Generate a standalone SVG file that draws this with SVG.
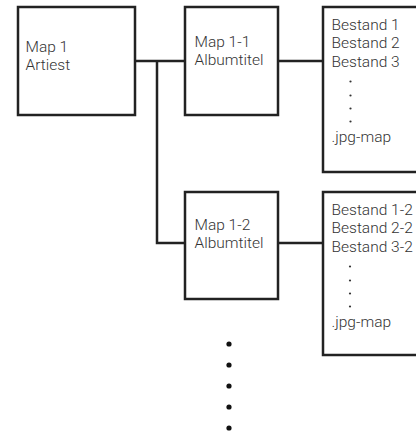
<svg xmlns="http://www.w3.org/2000/svg" width="416" height="431" viewBox="0 0 416 431">
<style>
.box{fill:#fff;stroke:#222;stroke-width:2.5}
.ln{fill:none;stroke:#222;stroke-width:2.5}
text{font-family:Roboto,"Liberation Sans",Arial,sans-serif;font-weight:300;font-size:15.5px;fill:#333}
.sd{fill:#333}
.bd{fill:#111}
</style>
<rect width="416" height="431" fill="#fff"/>
<g id="connectors">
<path class="ln" d="M135 61H185M157 61V243H185M278 61H323M278 243H323"/>
</g>
<g id="map1">
<rect class="box" x="18" y="7" width="117" height="108"/>
<text x="25.5" y="51.5">Map 1</text>
<text x="25.5" y="69.5">Artiest</text>
</g>
<g id="map1-1">
<rect class="box" x="185" y="7" width="93" height="108"/>
<text x="194.5" y="46.5">Map 1-1</text>
<text x="194.5" y="65">Albumtitel</text>
</g>
<g id="files1">
<rect class="box" x="323" y="7" width="100" height="165"/>
<text x="331.5" y="29.5">Bestand 1</text>
<text x="331.5" y="48">Bestand 2</text>
<text x="331.5" y="66.5">Bestand 3</text>
<circle class="sd" cx="350.5" cy="81.5" r="1.1"/>
<circle class="sd" cx="350.5" cy="95.5" r="1.1"/>
<circle class="sd" cx="350.5" cy="108.5" r="1.1"/>
<circle class="sd" cx="350.5" cy="121.5" r="1.1"/>
<text x="331.5" y="141.5">.jpg-map</text>
</g>
<g id="map1-2">
<rect class="box" x="185" y="192" width="93" height="107"/>
<text x="194.5" y="229.5">Map 1-2</text>
<text x="194.5" y="248">Albumtitel</text>
</g>
<g id="files2">
<rect class="box" x="323" y="192" width="100" height="163"/>
<text x="331.5" y="214.5">Bestand 1-2</text>
<text x="331.5" y="233">Bestand 2-2</text>
<text x="331.5" y="251.5">Bestand 3-2</text>
<circle class="sd" cx="350" cy="266.5" r="1.1"/>
<circle class="sd" cx="350" cy="280.5" r="1.1"/>
<circle class="sd" cx="350" cy="293.5" r="1.1"/>
<circle class="sd" cx="350" cy="306.5" r="1.1"/>
<text x="331.5" y="326.5">.jpg-map</text>
</g>
<g id="more">
<circle class="bd" cx="229" cy="344" r="2.6"/>
<circle class="bd" cx="229" cy="365" r="2.6"/>
<circle class="bd" cx="229" cy="386" r="2.6"/>
<circle class="bd" cx="229" cy="407" r="2.6"/>
<circle class="bd" cx="229" cy="428" r="2.6"/>
</g>
</svg>
